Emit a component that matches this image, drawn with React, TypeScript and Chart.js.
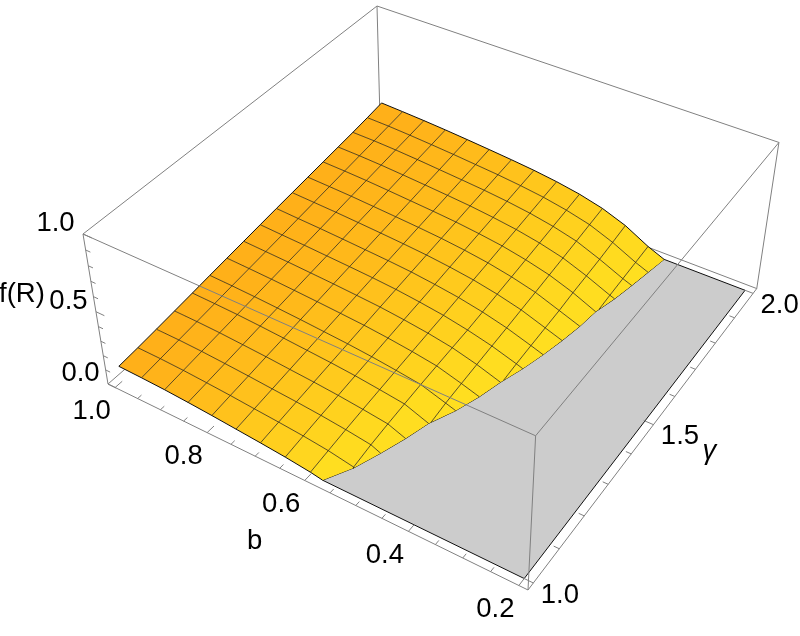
import { useEffect, useRef } from 'react';
import { Chart, registerables } from 'chart.js';

Chart.register(...registerables);

// mesh positions of the surface
const bValues = [1, 0.95, 0.9, 0.85, 0.8, 0.75, 0.7, 0.65, 0.6, 0.55, 0.5, 0.45, 0.4, 0.35];
const gammaValues = [1, 1.0625, 1.125, 1.1875, 1.25, 1.3125, 1.375, 1.4375, 1.5, 1.5625, 1.625, 1.6875, 1.75, 1.8125, 1.875, 1.9375, 2];
// where f(R) reaches zero, per gamma value
const cutoffB = [0.576, 0.549, 0.531, 0.515, 0.502, 0.48, 0.464, 0.452, 0.437, 0.425, 0.415, 0.407, 0.402, 0.39, 0.381, 0.373, 0.365];

// f(R) along each b mesh line, gamma = 1 ... 2 (null: past the cut-off)
const n = null;
const fAtB100 = [0.112, 0.125, 0.14, 0.156, 0.172, 0.189, 0.205, 0.221, 0.237, 0.253, 0.268, 0.283, 0.298, 0.313, 0.328, 0.345, 0.364];
const fAtB095 = [0.108, 0.123, 0.138, 0.153, 0.168, 0.184, 0.199, 0.214, 0.229, 0.245, 0.261, 0.277, 0.293, 0.309, 0.325, 0.341, 0.357];
const fAtB090 = [0.102, 0.117, 0.132, 0.147, 0.162, 0.177, 0.192, 0.207, 0.222, 0.238, 0.254, 0.27, 0.286, 0.302, 0.318, 0.333, 0.349];
const fAtB085 = [0.092, 0.107, 0.122, 0.137, 0.153, 0.168, 0.183, 0.198, 0.213, 0.229, 0.245, 0.26, 0.276, 0.292, 0.308, 0.323, 0.339];
const fAtB080 = [0.08, 0.096, 0.111, 0.127, 0.142, 0.158, 0.173, 0.189, 0.204, 0.219, 0.235, 0.25, 0.265, 0.281, 0.296, 0.312, 0.327];
const fAtB075 = [0.066, 0.082, 0.098, 0.114, 0.13, 0.146, 0.162, 0.178, 0.194, 0.209, 0.224, 0.239, 0.254, 0.269, 0.284, 0.299, 0.314];
const fAtB070 = [0.052, 0.069, 0.086, 0.102, 0.118, 0.134, 0.15, 0.166, 0.181, 0.196, 0.211, 0.226, 0.241, 0.256, 0.271, 0.286, 0.3];
const fAtB065 = [0.036, 0.054, 0.071, 0.087, 0.103, 0.118, 0.133, 0.148, 0.162, 0.177, 0.193, 0.208, 0.223, 0.238, 0.254, 0.269, 0.284];
const fAtB060 = [0.015, 0.034, 0.052, 0.068, 0.083, 0.098, 0.112, 0.126, 0.139, 0.154, 0.17, 0.185, 0.201, 0.216, 0.232, 0.248, 0.263];
const fAtB055 = [n, 0.003, 0.028, 0.046, 0.061, 0.075, 0.086, 0.097, 0.107, 0.122, 0.138, 0.153, 0.169, 0.185, 0.202, 0.218, 0.235];
const fAtB050 = [n, n, n, n, n, 0.022, 0.038, 0.053, 0.067, 0.081, 0.097, 0.112, 0.128, 0.144, 0.161, 0.178, 0.195];
const fAtB045 = [n, n, n, n, n, n, n, n, 0.015, 0.028, 0.04, 0.052, 0.07, 0.083, 0.097, 0.115, 0.135];
const fAtB040 = [n, n, n, n, n, n, n, n, n, n, n, n, n, 0.012, 0.024, 0.036, 0.048];
const fAtB035 = [n, n, n, n, n, n, n, n, n, n, n, n, n, n, n, n, n];
const fRows = [fAtB100, fAtB095, fAtB090, fAtB085, fAtB080, fAtB075, fAtB070, fAtB065, fAtB060, fAtB055, fAtB050, fAtB045, fAtB040, fAtB035];

// axes
const bTicks = [1, 0.95, 0.9, 0.85, 0.8, 0.75, 0.7, 0.65, 0.6, 0.55, 0.5, 0.45, 0.4, 0.35, 0.3, 0.25, 0.2];
const bLabels = [1, 0.8, 0.6, 0.4, 0.2];
const gammaTicks = [1, 1.1, 1.2, 1.3, 1.4, 1.5, 1.6, 1.7, 1.8, 1.9, 2];
const gammaLabels = [1, 1.5, 2];
const fTicks = [0, 0.1, 0.2, 0.3, 0.4, 0.5, 0.6, 0.7, 0.8, 0.9, 1];
const fLabels = [0, 0.5, 1];

// plot box and the perspective camera that maps it to the picture
const bRange = [1.016, 0.184];
const gammaRange = [0.98, 2.02];
const camX = [357.14, 344.79, -30.815, 108];
const camY = [135.75, -210.89, -166.39, 384];
const camD = [-0.11906, 0.18935, -0.07006, 1];

type V3 = [number, number, number];

const boxPoint = (u: number, v: number, w: number) => {
  const d = camD[0] * u + camD[1] * v + camD[2] * w + camD[3];
  return {
    x: (camX[0] * u + camX[1] * v + camX[2] * w + camX[3]) / d,
    y: (camY[0] * u + camY[1] * v + camY[2] * w + camY[3]) / d,
  };
};
const toU = (b: number) => (bRange[0] - b) / (bRange[0] - bRange[1]);
const toV = (g: number) => (g - gammaRange[0]) / (gammaRange[1] - gammaRange[0]);
const project = ([b, g, f]: V3) => boxPoint(toU(b), toV(g), f);

const BOX = 'rgb(128,128,128)';
const MESH = 'rgba(30,25,10,0.72)';
const EDGE = 'rgb(15,15,15)';

function lineDataset(points: { x: number; y: number }[], color: string, width = 1) {
  return {
    data: points,
    showLine: true,
    fill: false,
    borderColor: color,
    borderWidth: width,
    pointRadius: 0,
    tension: 0,
    clip: false,
  };
}
function polygonDataset(points: { x: number; y: number }[], color: string) {
  return {
    data: points,
    showLine: true,
    fill: 'shape',
    backgroundColor: color,
    borderColor: color,
    borderWidth: 0,
    pointRadius: 0,
    tension: 0,
    clip: false,
  };
}

const boxLine = (a: number[], b: number[]) =>
  lineDataset([boxPoint(a[0], a[1], a[2]), boxPoint(b[0], b[1], b[2])], BOX, 1);

function cellColor(b: number, g: number) {
  const j = Math.min(gammaValues.length - 1, Math.max(0, (g - 1) * 16));
  const j0 = Math.floor(j);
  const j1 = Math.min(j0 + 1, gammaValues.length - 1);
  const c = cutoffB[j0] + (cutoffB[j1] - cutoffB[j0]) * (j - j0);
  const t = Math.min(1, Math.max(0, (1 - b) / (1 - c)));
  const s = Math.pow(t, 1.4);
  return `rgb(255,${Math.round(175 + 49 * s)},${Math.round(25 + 7 * s)})`;
}

function cellPolygon(i: number, j: number): V3[] {
  const corners: [number, number][] = [[i, j], [i, j + 1], [i + 1, j + 1], [i + 1, j]];
  const out: V3[] = [];
  corners.forEach(([ci, cj], k) => {
    const [di, dj] = corners[(k + 1) % 4];
    const fc = fRows[ci][cj];
    const fd = fRows[di][dj];
    if (fc !== null) out.push([bValues[ci], gammaValues[cj], fc]);
    if ((fc === null) !== (fd === null)) {
      if (cj === dj) {
        out.push([cutoffB[cj], gammaValues[cj], 0]);
      } else {
        const b = bValues[ci];
        const t = Math.min(1, Math.max(0, (cutoffB[j] - b) / (cutoffB[j] - cutoffB[j + 1])));
        out.push([b, gammaValues[j] + (gammaValues[j + 1] - gammaValues[j]) * t, 0]);
      }
    }
  });
  return out;
}

function gammaMeshLine(j: number): V3[] {
  const pts: V3[] = [];
  bValues.forEach((b, i) => {
    const f = fRows[i][j];
    if (f !== null) pts.push([b, gammaValues[j], f]);
  });
  pts.push([cutoffB[j], gammaValues[j], 0]);
  return pts;
}

function bMeshLine(i: number): V3[] {
  const pts: V3[] = [];
  const b = bValues[i];
  gammaValues.forEach((g, j) => {
    const f = fRows[i][j];
    if (f === null) return;
    if (j > 0 && fRows[i][j - 1] === null) {
      const t = Math.min(1, Math.max(0, (cutoffB[j - 1] - b) / (cutoffB[j - 1] - cutoffB[j])));
      pts.push([b, gammaValues[j - 1] + (g - gammaValues[j - 1]) * t, 0]);
    }
    pts.push([b, g, f]);
  });
  return pts;
}

function buildDatasets() {
  const layers: any[] = [];
  // box edges behind the surface
  layers.push(boxLine([0, 0, 1], [0, 1, 1]));
  layers.push(boxLine([0, 1, 1], [1, 1, 1]));
  layers.push(boxLine([0, 1, 1], [0, 1, 0]));
  layers.push(boxLine([1, 1, 1], [1, 1, 0]));
  layers.push(boxLine([0, 1, 0], [1, 1, 0]));
  layers.push(boxLine([0, 0, 0], [0, 1, 0]));

  // clipped floor
  const floor: V3[] = [[0.2, 1, 0], [0.2, 2, 0]];
  for (let j = gammaValues.length - 1; j >= 0; j--) floor.push([cutoffB[j], gammaValues[j], 0]);
  layers.push(polygonDataset(floor.map(project), 'rgb(204,204,204)'));
  layers.push(lineDataset([...floor.map(project), project(floor[0])], EDGE, 1));

  // surface cells
  for (let i = 0; i < bValues.length - 1; i++) {
    for (let j = 0; j < gammaValues.length - 1; j++) {
      const poly = cellPolygon(i, j);
      if (poly.length < 3) continue;
      const mb = poly.reduce((a, p) => a + p[0], 0) / poly.length;
      const mg = poly.reduce((a, p) => a + p[1], 0) / poly.length;
      layers.push(polygonDataset(poly.map(project), cellColor(mb, mg)));
    }
  }
  // mesh
  for (let j = 1; j < gammaValues.length - 1; j++) {
    layers.push(lineDataset(gammaMeshLine(j).map(project), MESH, 1));
  }
  for (let i = 1; i < bValues.length - 1; i++) {
    layers.push(lineDataset(bMeshLine(i).map(project), MESH, 1));
  }
  // surface outline
  layers.push(lineDataset(bMeshLine(0).map(project), EDGE, 1));
  layers.push(lineDataset(gammaMeshLine(0).map(project), EDGE, 1));
  layers.push(lineDataset(gammaMeshLine(gammaValues.length - 1).map(project), EDGE, 1));

  // box edges in front
  layers.push(boxLine([0, 0, 1], [1, 0, 1]));
  layers.push(boxLine([1, 0, 1], [1, 1, 1]));
  layers.push(boxLine([1, 0, 1], [1, 0, 0]));
  layers.push(boxLine([0, 0, 0], [1, 0, 0]));
  layers.push(boxLine([1, 0, 0], [1, 1, 0]));
  layers.push(boxLine([0, 0, 0], [0, 0, 1]));

  // ticks
  bTicks.forEach((b) => {
    const len = bLabels.some((l) => Math.abs(l - b) < 1e-6) ? 0.022 : 0.012;
    layers.push(boxLine([toU(b), 0, 0], [toU(b), len, 0]));
  });
  gammaTicks.forEach((g) => {
    const len = gammaLabels.some((l) => Math.abs(l - g) < 1e-6) ? 0.022 : 0.012;
    layers.push(boxLine([1, toV(g), 0], [1 - len, toV(g), 0]));
  });
  fTicks.forEach((f) => {
    const len = fLabels.some((l) => Math.abs(l - f) < 1e-6) ? 0.022 : 0.012;
    layers.push(boxLine([0, 0, f], [len, 0, f]));
  });
  // first dataset is painted last in Chart.js
  return layers.reverse();
}

const FONT = '27.5px "Liberation Sans"';
const BASELINE = 9.6;

const axisLabelPlugin = {
  id: 'axisLabels',
  afterDraw(chart: any) {
    const { ctx, scales } = chart;
    const put = (text: string, x: number, y: number, font = FONT) => {
      ctx.font = font;
      ctx.fillStyle = '#000';
      ctx.textAlign = 'center';
      ctx.textBaseline = 'alphabetic';
      ctx.fillText(text, scales.x.getPixelForValue(x), scales.y.getPixelForValue(y) + BASELINE);
    };
    ctx.save();
    bLabels.forEach((b) => {
      const p = boxPoint(toU(b), 0, 0);
      put(b.toFixed(1), p.x - 23.5, p.y + 21.8);
    });
    gammaLabels.forEach((g) => {
      const p = boxPoint(1, toV(g), 0);
      put(g.toFixed(1), p.x + 26.5, p.y + 10);
    });
    fLabels.forEach((f) => {
      const p = boxPoint(0, 0, f);
      put(f.toFixed(1), p.x - 27.5, p.y - 12.5);
    });
    const fMid = boxPoint(0, 0, 0.5);
    put('f(R)', fMid.x - 74, fMid.y - 19);
    const bMid = boxPoint(toU(0.6), 0, 0);
    put('b', bMid.x - 50, bMid.y + 59);
    const gMid = boxPoint(1, toV(1.5), 0);
    put('\u03b3', gMid.x + 56, gMid.y + 24.7, 'italic 27.5px "Liberation Sans"');
    ctx.restore();
  },
};

export default function App() {
  const ref = useRef<HTMLCanvasElement | null>(null);
  useEffect(() => {
    if (!ref.current) return;
    const chart = new Chart(ref.current, {
      type: 'scatter',
      data: { datasets: buildDatasets() },
      plugins: [axisLabelPlugin],
      options: {
        animation: false,
        responsive: false,
        events: [],
        layout: { padding: 0 },
        plugins: { legend: { display: false }, tooltip: { enabled: false }, title: { display: false } },
        scales: {
          x: { type: 'linear', display: false, min: 0, max: 800 },
          y: { type: 'linear', display: false, min: 0, max: 636, reverse: true },
        },
      },
    } as any);
    return () => chart.destroy();
  }, []);
  return (
    <div style={{ position: 'absolute', left: 0, top: 0, width: 800, height: 636 }}>
      <canvas ref={ref} width={800} height={636} style={{ display: 'block' }} />
    </div>
  );
}
